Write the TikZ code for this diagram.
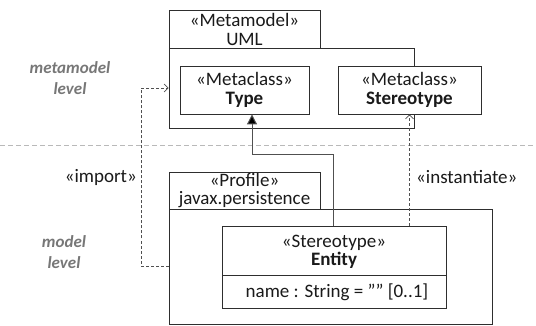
\documentclass[tikz,border=0pt]{standalone}
\usepackage{fontspec}
\setmainfont{Carlito}
\usetikzlibrary{arrows.meta}
\definecolor{linec}{HTML}{2E2E2E}
\definecolor{connc}{HTML}{505050}
\definecolor{lvlc}{HTML}{777777}
\definecolor{txtc}{HTML}{1A1A1A}
\tikzset{
  box/.style={draw=linec, line width=0.9pt, fill=white, rectangle, inner sep=0pt, align=center, text=txtc, font=\fontsize{19}{18.5}\selectfont},
  lbl/.style={inner sep=0pt, align=center, text=txtc, font=\fontsize{19}{18.5}\selectfont},
  lvl/.style={inner sep=0pt, align=center, text=lvlc, font=\fontsize{17}{21}\selectfont\bfseries\itshape},
  dep/.style={draw=connc, line width=0.8pt, dash pattern=on 3pt off 2pt, -{Straight Barb[length=4pt, width=8pt, line width=0.7pt]}},
  gen/.style={draw=connc, line width=1pt, -{Triangle[length=10pt, width=10pt, fill=black]}},
  sep/.style={draw=gray!55, line width=0.8pt, dash pattern=on 5pt off 3pt}
}
\begin{document}
\begin{tikzpicture}[x=1pt, y=-1pt]
\useasboundingbox (0,0) rectangle (536,326);
% separator between levels
\coordinate (sepL) at (0,145);
\coordinate (sepR) at (536,145);
\draw[sep] (sepL) -- (sepR);
% metamodel package
\node[box, minimum width=151pt, minimum height=39pt] (mmtab) at (244.5,29.5) {«Metamodel»\\UML};
\node[box, minimum width=245pt, minimum height=80pt] (mmbody) at (291.5,88) {};
\node[box, minimum width=129pt, minimum height=48pt] (type) at (244.5,90) {«Metaclass»\\\textbf{Type}};
\node[box, minimum width=143pt, minimum height=48pt] (stereo) at (409.5,90) {«Metaclass»\\\textbf{Stereotype}};
% profile package
\node[box, minimum width=151pt, minimum height=37pt] (ptab) at (244.5,190.5) {«Profile»\\javax.persistence};
\node[box, minimum width=323pt, minimum height=115pt] (pbody) at (330.5,266.5) {};
\node[box, minimum width=224pt, minimum height=82pt] (entity) at (334,267) {};
\coordinate (sepA) at (222,275);
\coordinate (sepB) at (446,275);
\draw[linec, line width=0.9pt] (sepA) -- (sepB);
\node[lbl] (entname) at (334,252) {«Stereotype»\\\textbf{Entity}};
\node[lbl] (entattr) at (337,292) {name : String = "" [0..1]};
% level labels
\node[lvl] (mmlevel) at (70,78) {metamodel\\level};
\node[lvl] (mlevel) at (64,252) {model\\level};
% connectors
\draw[dep] (pbody.west) -- ++(-27,0) |- (mmbody.west);
\coordinate (bend) at (252,155);
\draw[gen] (entity.north -| 333,0) |- (bend) -- (bend |- type.south);
\draw[dep] (stereo.south |- entity.north) -- (stereo.south);
% connector labels
\node[lbl, anchor=east] (implbl) at (137,177) {«import»};
\node[lbl, anchor=west] (instlbl) at (416,177) {«instantiate»};
\end{tikzpicture}
\end{document}
